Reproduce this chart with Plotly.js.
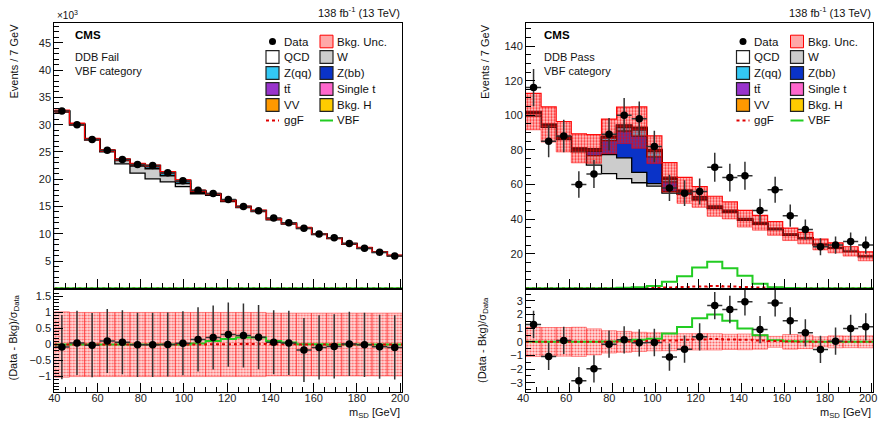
<!DOCTYPE html>
<html><head><meta charset="utf-8">
<script src="https://cdn.plot.ly/plotly-3.0.1.min.js"></script>
<style>html,body{margin:0;padding:0;background:#fff}#chart{width:879px;height:425px}</style>
</head><body><div id="chart"></div>
<script>
// ---------- binning ----------
const binEdges = [40,47,54,61,68,75,82,89,96,103,110,117,124,131,138,145,152,159,166,173,180,187,194,201];
const xTickVals = [40,60,80,100,120,140,160,180,200];
const failYTicks = [5,10,15,20,25,30,35,40,45];
const passYTicks = [20,40,60,80,100,120,140];

// ---------- DDB Fail (x10^3 events) ----------
const failData    = [32.5,30.0,27.3,25.3,23.6,22.7,22.5,21.2,19.7,18.0,17.4,16.3,15.0,14.2,12.9,12.0,11.0,9.95,9.25,8.2,7.35,6.6,5.9];
const failDataErr = [0.18,0.17,0.17,0.16,0.15,0.15,0.15,0.15,0.14,0.13,0.13,0.13,0.12,0.12,0.11,0.11,0.10,0.10,0.10,0.09,0.09,0.08,0.08];
const failQCD = [32.33,29.93,27.17,25.02,22.80,21.11,20.07,19.50,18.64,17.34,17.03,15.90,14.78,14.05,12.57,11.78,10.93,9.84,9.10,8.05,7.30,6.56,5.91];
const failW   = [0.05,0.05,0.06,0.08,0.60,1.30,1.85,1.10,0.55,0.20,0.10,0.06,0.05,0.04,0.03,0.03,0.03,0.02,0.02,0.02,0.02,0.02,0.01];
const failZbb = [0,0,0,0.01,0.02,0.05,0.08,0.10,0.08,0.04,0.01,0.01,0,0,0,0,0,0,0,0,0,0,0];
const failZqq = [0.01,0.01,0.01,0.02,0.05,0.15,0.30,0.40,0.35,0.15,0.05,0.03,0.02,0.02,0.01,0.01,0.01,0.01,0.01,0.01,0.01,0.01,0.01];
const failTT  = [0.08,0.08,0.08,0.08,0.08,0.08,0.08,0.08,0.07,0.07,0.07,0.06,0.06,0.05,0.05,0.04,0.04,0.04,0.03,0.03,0.03,0.02,0.02];
const failST  = [0.02,0.02,0.02,0.02,0.02,0.02,0.02,0.02,0.02,0.02,0.02,0.02,0.02,0.02,0.02,0.02,0.02,0.02,0.02,0.02,0.02,0.02,0.02];
const failVV  = [0,0,0,0.01,0.02,0.03,0.04,0.04,0.03,0.02,0.01,0.01,0.01,0.01,0.01,0.01,0.01,0.01,0.01,0.01,0.01,0.01,0.01];
const failH   = [0.01,0.01,0.01,0.01,0.01,0.01,0.01,0.01,0.01,0.01,0.01,0.01,0.01,0.01,0.01,0.01,0.01,0.01,0.01,0.01,0.01,0.01,0.01];
const failUnc = [0.18,0.17,0.165,0.16,0.155,0.15,0.15,0.145,0.14,0.135,0.13,0.127,0.122,0.119,0.113,0.109,0.105,0.10,0.096,0.09,0.086,0.081,0.077];
const failGGF = [0,0,0,0,0,0,0,0,0.001,0.001,0.002,0.003,0.004,0.004,0.003,0.002,0.001,0.001,0,0,0,0,0];
const failVBF = [0,0,0,0,0,0,0,0.001,0.002,0.004,0.012,0.020,0.026,0.026,0.014,0.008,0.002,0.001,0,0,0,0,0];
const failPull    = [-0.08,0.05,-0.02,0.11,0.07,-0.01,-0.01,0,0.04,0.16,0.22,0.31,0.28,0.23,0.07,0.05,-0.17,-0.09,-0.06,0.02,-0.01,-0.07,-0.09];
const failPullUnc = [1.02,1.0,1.0,1.0,1.0,1.0,1.0,1.0,1.0,1.0,1.0,1.0,1.0,1.0,0.98,0.98,0.98,0.98,0.98,0.98,0.98,0.98,0.98];
const failVBFPull = [0,0,0,0,0,0,0,0,0,0.03,0.11,0.17,0.22,0.22,0.11,0.06,0.01,0.01,0,0,0,0,0];
const failGGFPull = [0,0,0,0,0,0,0,0,0,0,0.01,0.01,0.02,0.02,0.01,0.01,0,0,0,0,0,0,0];

// ---------- DDB Pass (events) ----------
const passData    = [116,85,88,60,66,89,100,98,82,58,55,56,70,64,65,45,57,42,34,24,25,27,25];
const passDataErr = [10.8,9.2,9.4,7.7,8.1,9.4,10.0,9.9,9.1,7.6,7.4,7.5,8.4,8.0,8.1,6.7,7.5,6.5,5.8,4.9,5.0,5.2,5.0];
const passQCD = [99.5,93.0,86.0,78.8,71.2,66.3,63.4,61.0,59.0,55.0,54.3,51.0,46.0,43.8,39.2,37.0,33.8,30.6,28.6,25.0,23.1,21.0,18.2];
const passW   = [1.5,0.8,0.6,0.8,5.5,11.0,12.0,6.0,1.5,1.0,0.5,0.4,0.3,0.2,0.2,0.2,0.2,0.1,0.1,0.1,0.1,0.1,0.1];
const passZbb = [0.3,0.3,0.3,0.4,2.5,8.0,15.5,21.0,15.5,5.5,0.6,0.3,0.2,0.1,0.1,0.1,0.1,0.1,0,0,0,0,0];
const passZqq = [0.2,0.2,0.2,0.3,0.5,1.5,2.0,3.5,3.0,1.5,0.3,0.2,0.1,0.1,0.1,0.1,0,0,0,0,0,0,0];
const passTT  = [0.5,0.3,0.3,0.4,0.5,0.5,0.6,0.6,0.5,0.5,0.4,0.4,0.3,0.3,0.2,0.2,0.2,0.2,0.2,0.1,0.1,0.1,0.1];
const passST  = [0.1,0.1,0.1,0.1,0.1,0.1,0.1,0.1,0.1,0.1,0.1,0.1,0.1,0.1,0.1,0.1,0.1,0.1,0.1,0.1,0.1,0.1,0.1];
const passVV  = [0,0,0.1,0.1,0.2,0.3,0.5,0.5,0.3,0.2,0.1,0.1,0.1,0.1,0.1,0.1,0.1,0,0,0,0,0,0];
const passH   = [0,0,0,0,0,0.1,0.1,0.2,0.2,0.3,0.3,0.3,0.3,0.3,0.2,0.1,0.1,0.1,0,0,0,0,0];
const passUnc = [10.5,10.2,8.8,8.4,8.3,10.0,10.5,12.0,8.0,8.5,7.5,6.0,5.8,4.9,4.8,4.3,4.0,3.6,3.3,3.1,2.9,2.7,2.6];
const passGGF = [0,0,0,0,0,0,0.1,0.2,0.3,0.5,0.8,1.0,1.3,1.1,0.8,0.5,0.3,0.1,0.1,0,0,0,0];
const passVBF = [0,0,0,0,0,0.1,0.3,0.6,1.3,3.8,7.0,12.0,15.4,11.6,7.2,2.6,0.6,0.2,0.1,0,0,0,0];
const passPull    = [1.27,-1.07,0.10,-2.85,-1.98,-0.17,0.15,-0.07,-0.05,-1.12,-0.54,0.37,2.66,2.37,2.93,0.90,2.85,1.54,0.66,-0.56,0.05,0.98,1.10];
const passPullUnc = [1.08,1.05,1.05,1.07,0.95,0.82,0.77,0.70,0.66,0.65,0.60,0.60,0.60,0.56,0.58,0.54,0.40,0.54,0.50,0.37,0.44,0.43,0.44];
const passVBFPull = [0,0,0,0,0,0.02,0.05,0.15,0.22,0.62,1.08,1.72,2.0,1.54,0.98,0.48,0.12,0.05,0.02,0,0,0,0];
const passGGFPull = [0,0,0,0,0,0.01,0.03,0.05,0.08,0.10,0.15,0.18,0.20,0.18,0.15,0.10,0.06,0.03,0.01,0,0,0,0];

// ---------- labels ----------
const legendLabels = ['Data','Bkg. Unc.','QCD','W','Z(qq)','Z(bb)','tt\u0304','Single t','VV','Bkg. H','ggF','VBF'];
const compColors = {QCD:'#ffffff', W:'#cccccc', Zbb:'#0a33c8', Zqq:'#33c8f5', TT:'#9933cc', ST:'#ff66cc', VV:'#ff9900', H:'#ffcc00'};

// ---------- helpers ----------
const W = 879, H = 425;
const px = v => v / W, py = v => 1 - v / H;
const centers = binEdges.slice(0, -1).map((e, i) => (e + binEdges[i + 1]) / 2);
const stepY = v => v.concat([v[v.length - 1]]);
const FONT = 'Liberation Sans, Arial, Helvetica, sans-serif';
const traces = [];
const bandPattern = {shape:'.', fgcolor:'#ff0000', fgopacity:0.75, bgcolor:'rgba(255,70,70,0.28)', size:3, solidity:0.45, fillmode:'replace'};

function addUpper(xa, ya, comps, unc, ggf, vbf, data, dataErr) {
  const cum = [];
  let run = new Array(comps[0].vals.length).fill(0);
  comps.forEach(c => { run = run.map((r, i) => r + c.vals[i]); cum.push(run.slice()); });
  for (let k = comps.length - 1; k >= 0; k--) {
    traces.push({type:'scatter', mode:'lines', x:binEdges, y:stepY(cum[k]), xaxis:xa, yaxis:ya,
      line:{shape:'hv', color:'#000', width:(k === comps.length - 1) ? 2 : 1.3},
      fill:'tozeroy', fillcolor:comps[k].color, hoverinfo:'skip'});
  }
  const total = cum[cum.length - 1];
  traces.push({type:'scatter', mode:'lines', x:binEdges, y:stepY(total.map((t, i) => t - unc[i])), xaxis:xa, yaxis:ya,
    line:{shape:'hv', color:'rgba(255,0,0,0.5)', width:1}, hoverinfo:'skip'});
  traces.push({type:'scatter', mode:'lines', x:binEdges, y:stepY(total.map((t, i) => t + unc[i])), xaxis:xa, yaxis:ya,
    line:{shape:'hv', color:'rgba(255,0,0,0.95)', width:1.2}, fill:'tonexty', fillcolor:'rgba(255,70,70,0.28)',
    fillpattern:bandPattern, hoverinfo:'skip'});
  traces.push({type:'scatter', mode:'lines', x:binEdges, y:stepY(ggf), xaxis:xa, yaxis:ya,
    line:{shape:'hv', color:'#e00000', width:2, dash:'dot'}, hoverinfo:'skip'});
  traces.push({type:'scatter', mode:'lines', x:binEdges, y:stepY(vbf), xaxis:xa, yaxis:ya,
    line:{shape:'hv', color:'#22cc22', width:2}, hoverinfo:'skip'});
  traces.push({type:'scatter', mode:'markers', x:centers, y:data, xaxis:xa, yaxis:ya,
    marker:{color:'#000', size:7.5},
    error_y:{type:'data', array:dataErr, color:'#333', thickness:1.5, width:0},
    error_x:{type:'constant', value:3.5, color:'#333', thickness:1.5, width:0}, hoverinfo:'skip'});
}

function addPull(xa, ya, pull, pullUnc, ggf, vbf) {
  traces.push({type:'bar', x:centers, y:pullUnc.map(u => 2 * u), base:pullUnc.map(u => -u), width:7, xaxis:xa, yaxis:ya,
    marker:{color:'rgba(255,120,120,0.35)', line:{color:'rgba(255,0,0,0.5)', width:0.8},
      pattern:{shape:'.', fgcolor:'#ff0000', fgopacity:0.55, bgcolor:'rgba(255,140,140,0.3)', size:3, solidity:0.4, fillmode:'replace'}},
    hoverinfo:'skip'});
  traces.push({type:'scatter', mode:'lines', x:binEdges, y:stepY(vbf), xaxis:xa, yaxis:ya,
    line:{shape:'hv', color:'#22cc22', width:2}, hoverinfo:'skip'});
  traces.push({type:'scatter', mode:'lines', x:binEdges, y:stepY(ggf), xaxis:xa, yaxis:ya,
    line:{shape:'hv', color:'#e00000', width:2, dash:'dot'}, hoverinfo:'skip'});
  traces.push({type:'scatter', mode:'markers', x:centers, y:pull, xaxis:xa, yaxis:ya,
    marker:{color:'#000', size:7.5},
    error_y:{type:'constant', value:1, color:'#333', thickness:1.5, width:0},
    error_x:{type:'constant', value:3.5, color:'#333', thickness:1.5, width:0}, hoverinfo:'skip'});
}

const failComps = [
  {vals:failQCD, color:compColors.QCD}, {vals:failW, color:compColors.W}, {vals:failZbb, color:compColors.Zbb},
  {vals:failZqq, color:compColors.Zqq}, {vals:failTT, color:compColors.TT}, {vals:failST, color:compColors.ST},
  {vals:failVV, color:compColors.VV}, {vals:failH, color:compColors.H}];
const passComps = [
  {vals:passQCD, color:compColors.QCD}, {vals:passW, color:compColors.W}, {vals:passZbb, color:compColors.Zbb},
  {vals:passZqq, color:compColors.Zqq}, {vals:passTT, color:compColors.TT}, {vals:passST, color:compColors.ST},
  {vals:passVV, color:compColors.VV}, {vals:passH, color:compColors.H}];

addUpper('x', 'y', failComps, failUnc, failGGF, failVBF, failData, failDataErr);
addPull('x2', 'y2', failPull, failPullUnc, failGGFPull, failVBFPull);
addUpper('x3', 'y3', passComps, passUnc, passGGF, passVBF, passData, passDataErr);
addPull('x4', 'y4', passPull, passPullUnc, passGGFPull, passVBFPull);

// ---------- axes ----------
const tickFont = {family:FONT, size:11, color:'#222'};
function xAx(domain, anchor, labels, shift) {
  return {domain, anchor, range:[40, 201], tickmode:'array', tickvals:xTickVals, showticklabels:labels, tickfont:tickFont,
    ticks:'inside', ticklen:9, tickcolor:'#000', ticklabelstandoff:-5, ticklabeloverflow:'allow', ticklabelshift:shift || 0,
    showline:true, mirror:true, linecolor:'#000', linewidth:1,
    showgrid:false, zeroline:false, fixedrange:true,
    minor:{ticks:'inside', ticklen:5, tickcolor:'#000', dtick:5, tick0:40, showgrid:false}};
}
function yAx(domain, anchor, range, ticks, minorDtick) {
  const o = {domain, anchor, range, tickfont:tickFont, ticks:'inside', ticklen:9, tickcolor:'#000',
    showline:true, mirror:true, linecolor:'#000', linewidth:1, showgrid:false, zeroline:false, fixedrange:true,
    minor:{ticks:'inside', ticklen:5, tickcolor:'#000', dtick:minorDtick, tick0:0, showgrid:false}};
  if (Array.isArray(ticks)) { o.tickmode = 'array'; o.tickvals = ticks; } else { o.dtick = ticks; o.tick0 = 0; }
  return o;
}
const xL = [px(54.3), px(402.3)], xR = [px(526), px(873.3)];
const yU = [py(288.3), py(22.7)], yD = [py(392.3), py(290)];

// ---------- annotations ----------
const annotations = [];
function ann(text, x, y, o) {
  annotations.push(Object.assign({text, x:px(x), y:py(y), xref:'paper', yref:'paper', showarrow:false,
    xanchor:'left', yanchor:'middle', font:{family:FONT, size:11, color:'#111'}}, o || {}));
}
function panelText(dx, cat, lumiRight) {
  ann('CMS', 73 + dx, 35, {font:{family:FONT, size:11.5, color:'#000', weight:'bold'}});
  ann(cat, 73 + dx, 56.7);
  ann('VBF category', 73 + dx, 71.3);
  ann('138 fb<sup>-1</sup> (13 TeV)', lumiRight, 12, {xanchor:'right'});
}
panelText(0, 'DDB Fail', 402.3);
panelText(468.7, 'DDB Pass', 873.3);
ann('\u00d710<sup>3</sup>', 55, 15, {font:{family:FONT, size:10, color:'#111'}});
ann('Events / 7 GeV', 13.5, 61, {textangle:-90, xanchor:'center'});
ann('Events / 7 GeV', 485, 61, {textangle:-90, xanchor:'center'});
ann('(Data - Bkg)/\u03c3<sub>Data</sub>', 13.5, 338, {textangle:-90, xanchor:'center'});
ann('(Data - Bkg)/\u03c3<sub>Data</sub>', 483, 340, {textangle:-90, xanchor:'center'});
ann('m<sub>SD</sub> [GeV]', 402.3, 413, {xanchor:'right'});
ann('m<sub>SD</sub> [GeV]', 873.3, 413, {xanchor:'right'});

// ---------- legend (drawn) ----------
const shapes = [];
const rowY = [41.5, 57, 73, 89, 105, 120.5];
const colBox = [266, 320], colText = [281.5, 335];
const legendKinds = [
  {kind:'dot'}, {kind:'unc'},
  {kind:'box', color:compColors.QCD}, {kind:'box', color:compColors.W},
  {kind:'box', color:compColors.Zqq}, {kind:'box', color:compColors.Zbb},
  {kind:'box', color:compColors.TT}, {kind:'box', color:compColors.ST},
  {kind:'box', color:compColors.VV}, {kind:'box', color:compColors.H},
  {kind:'line', color:'#e00000', dash:'dot'}, {kind:'line', color:'#22cc22', dash:'solid'}];
function addLegend(dx) {
  legendKinds.forEach((it, i) => {
    const c = i % 2, r = Math.floor(i / 2);
    const x0 = colBox[c] + dx, yc = rowY[r];
    const base = {xref:'paper', yref:'paper', layer:'above'};
    if (it.kind === 'dot') {
      shapes.push(Object.assign({type:'circle', x0:px(x0 + 3), x1:px(x0 + 10), y0:py(yc + 3.5), y1:py(yc - 3.5),
        fillcolor:'#000', line:{color:'#000', width:0}}, base));
    } else if (it.kind === 'unc') {
      shapes.push(Object.assign({type:'rect', x0:px(x0), x1:px(x0 + 13), y0:py(yc + 6.3), y1:py(yc - 6.3),
        fillcolor:'rgba(255,110,110,0.6)', line:{color:'#ff0000', width:1}}, base));
    } else if (it.kind === 'box') {
      shapes.push(Object.assign({type:'rect', x0:px(x0), x1:px(x0 + 13), y0:py(yc + 6.3), y1:py(yc - 6.3),
        fillcolor:it.color, line:{color:'#222', width:1.2}}, base));
    } else {
      shapes.push(Object.assign({type:'line', x0:px(x0), x1:px(x0 + 13), y0:py(yc), y1:py(yc),
        line:{color:it.color, width:2, dash:it.dash}}, base));
    }
    ann(legendLabels[i], colText[c] + dx, yc, {font:{family:FONT, size:11.5, color:'#111'}});
  });
}
addLegend(0);
addLegend(470.5);

const layout = {
  width:W, height:H, margin:{l:0, r:0, t:0, b:0}, paper_bgcolor:'#fff', plot_bgcolor:'#fff',
  showlegend:false, barmode:'overlay', bargap:0, hovermode:false,
  xaxis: xAx(xL, 'y', false),
  yaxis: yAx(yU, 'x', [0, 48.7], failYTicks, 1),
  xaxis2: xAx(xL, 'y2', true, 0),
  yaxis2: yAx(yD, 'x2', [-1.49, 1.7], 0.5, 0.1),
  xaxis3: xAx(xR, 'y3', false),
  yaxis3: yAx(yU, 'x3', [0, 153.5], passYTicks, 5),
  xaxis4: xAx(xR, 'y4', true, -3),
  yaxis4: yAx(yD, 'x4', [-3.7, 3.8], 1, 0.5),
  annotations, shapes
};
Plotly.newPlot('chart', traces, layout, {staticPlot:true, displayModeBar:false});
</script></body></html>
